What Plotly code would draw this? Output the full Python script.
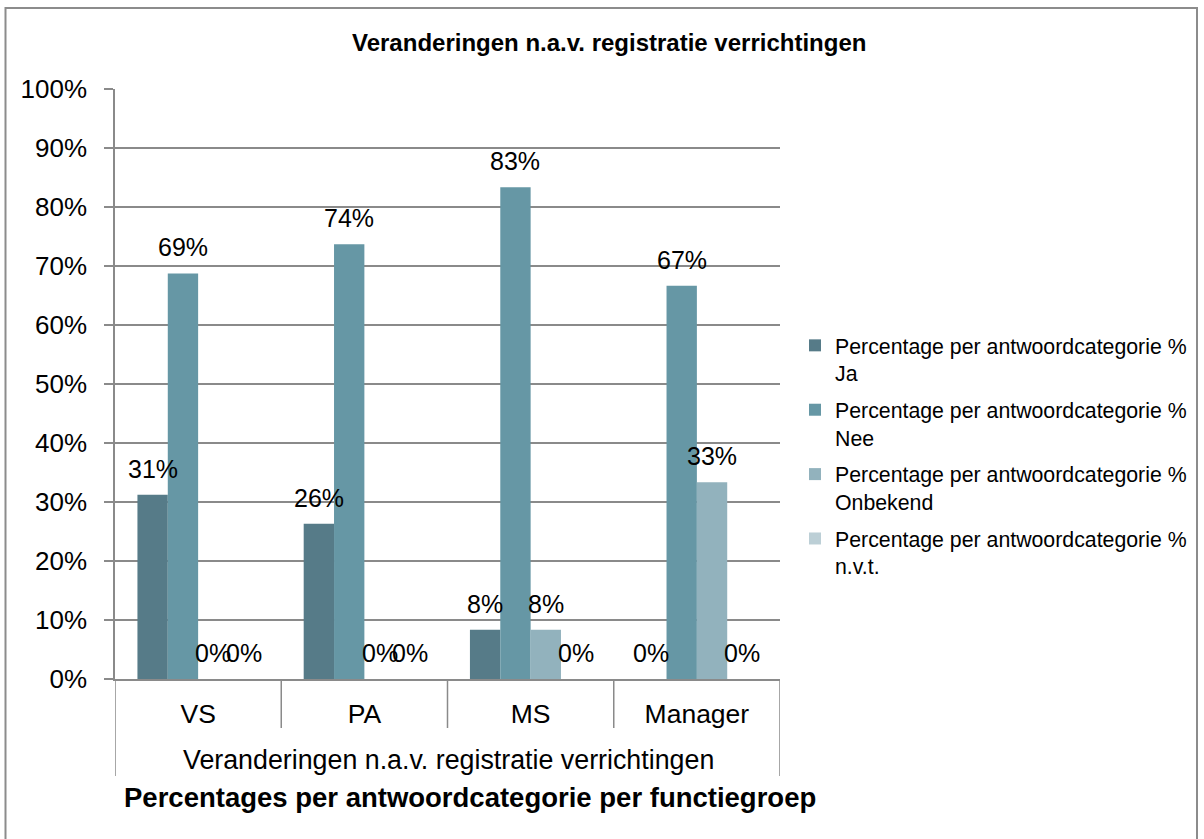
import plotly.graph_objects as go

# --- data -------------------------------------------------------------
groups = ["VS", "PA", "MS", "Manager"]
series_names = [
    "Percentage per antwoordcategorie %<br>Ja",
    "Percentage per antwoordcategorie %<br>Nee",
    "Percentage per antwoordcategorie %<br>Onbekend",
    "Percentage per antwoordcategorie %<br>n.v.t.",
]
ja = [31.25, 26.32, 8.33, 0.0]
nee = [68.75, 73.68, 83.33, 66.67]
onbekend = [0.0, 0.0, 8.33, 33.33]
nvt = [0.0, 0.0, 0.0, 0.0]
y_ticks = [0, 10, 20, 30, 40, 50, 60, 70, 80, 90, 100]

chart_title = "Veranderingen n.a.v. registratie verrichtingen"
group_label = "Veranderingen n.a.v. registratie verrichtingen"
axis_title = "Percentages per antwoordcategorie per functiegroep"

# --- styling ----------------------------------------------------------
colors = ["#567b88", "#6697a5", "#92b2bd", "#bccfd6"]
grid_col = "#8a8a8a"
FONT = "Liberation Sans, Arial, sans-serif"

W, H = 1204, 839
ML, MR, MT, MB = 115, 424, 89, 160
PW, PH = W - ML - MR, H - MT - MB
BARGAP = 0.27


def px_x(px):
    """pixel x -> paper x"""
    return (px - ML) / PW


def px_y(py):
    """pixel y (from top) -> paper y"""
    return (H - MB - py) / PH


all_series = [ja, nee, onbekend, nvt]

fig = go.Figure()
for name, vals, col in zip(series_names, all_series, colors):
    fig.add_trace(go.Bar(
        x=groups, y=vals, name=name,
        marker=dict(color=col, line=dict(width=0)),
        legendgroup=name,
    ))

# value labels above each bar
n = len(all_series)
slot = (1 - BARGAP) / n
annotations = []
for i, vals in enumerate(all_series):
    for c, v in enumerate(vals):
        annotations.append(dict(
            x=c + (i - (n - 1) / 2) * slot, y=v, xref="x", yref="y",
            text=f"{round(v)}%", showarrow=False,
            xanchor="center", yanchor="middle", yshift=26,
            font=dict(family=FONT, size=25, color="black"),
        ))

# chart title, group label and axis title
annotations += [
    dict(x=px_x(609), y=px_y(43), xref="paper", yref="paper",
         text=f"<b>{chart_title}</b>", showarrow=False,
         xanchor="center", yanchor="middle",
         font=dict(family=FONT, size=24, color="black")),
    dict(x=px_x(448), y=px_y(760), xref="paper", yref="paper",
         text=group_label, showarrow=False,
         xanchor="center", yanchor="middle",
         font=dict(family=FONT, size=26.8, color="black")),
    dict(x=px_x(470), y=px_y(797), xref="paper", yref="paper",
         text=f"<b>{axis_title}</b>", showarrow=False,
         xanchor="center", yanchor="middle",
         font=dict(family=FONT, size=27.5, color="black")),
]

shapes = []
# outer chart frame
shapes.append(dict(type="rect", xref="paper", yref="paper",
                   x0=px_x(5.5), x1=px_x(1197), y0=px_y(860), y1=px_y(8),
                   line=dict(color="#8c8c8c", width=2), fillcolor="rgba(0,0,0,0)",
                   layer="below"))
# category boundaries below the axis
for b in range(len(groups) + 1):
    xb = b - 0.5
    outer = b in (0, len(groups))
    shapes.append(dict(type="line", xref="x", yref="paper",
                       x0=xb, x1=xb, y0=0, y1=px_y(776 if outer else 728),
                       line=dict(color=grid_col, width=1.5)))

fig.update_layout(
    width=W, height=H,
    margin=dict(l=ML, r=MR, t=MT, b=MB, autoexpand=False),
    paper_bgcolor="white", plot_bgcolor="white",
    barmode="group", bargap=BARGAP, bargroupgap=0,
    font=dict(family=FONT, color="black"),
    showlegend=True,
    legend=dict(
        x=px_x(795), y=px_y(325), xanchor="left", yanchor="top",
        font=dict(family=FONT, size=21.3, color="black"),
        valign="top", itemwidth=30, tracegroupgap=6,
        bgcolor="rgba(0,0,0,0)",
    ),
    annotations=annotations,
    shapes=shapes,
)

fig.update_xaxes(
    type="category", showgrid=False, zeroline=False,
    showline=True, linecolor=grid_col, linewidth=1.5,
    ticks="", tickfont=dict(family=FONT, size=26.5, color="black"),
    ticklabelstandoff=10,
    range=[-0.5, len(groups) - 0.5],
)
fig.update_yaxes(
    range=[0, 100], tickvals=y_ticks,
    ticktext=[f"{t}%" for t in y_ticks],
    showgrid=True, gridcolor=grid_col, gridwidth=1.5,
    zeroline=False,
    showline=True, linecolor=grid_col, linewidth=1.5,
    ticks="outside", ticklen=9, tickcolor=grid_col, tickwidth=1.5,
    tickfont=dict(family=FONT, size=26, color="black"),
    ticklabelstandoff=12,
)

fig.write_html("out.html")
